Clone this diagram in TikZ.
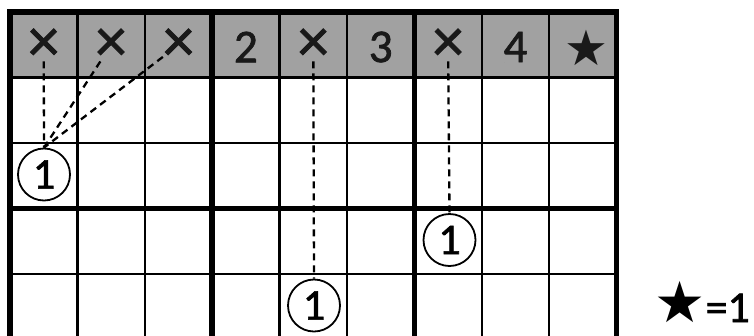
\documentclass[tikz,border=0pt]{standalone}
\usepackage{fontspec}
\setmainfont{Carlito}
\newfontfamily\digitfont{Carlito}[FakeBold=1.5]
\newfontfamily\symfont{DejaVu Sans}
\begin{document}
\begin{tikzpicture}[x=1pt,y=-1pt,
  thinrule/.style={line width=2.5pt},
  thickrule/.style={line width=5.5pt},
  hdr/.style={font=\digitfont\fontsize{47}{50}\selectfont, inner sep=0pt, text=black!90},
  xmark/.style={font=\digitfont\fontsize{62}{66}\selectfont, inner sep=0pt, text=black!90},
  starmark/.style={font=\symfont\fontsize{49}{52}\selectfont, inner sep=0pt, text=black!90},
  clue/.style={circle, draw, line width=1.8pt, minimum size=52pt, inner sep=0pt, font=\digitfont\fontsize{44}{48}\selectfont},
  link/.style={dash pattern=on 7pt off 5pt, line width=2.3pt}]
\useasboundingbox (0,0) rectangle (754,335);
\clip (0,0) rectangle (754,335);
% header shading
\fill[black!37] (10,12) rectangle (616.6,77.5);
% thin grid lines
\foreach \i in {1,2,4,5,7,8} \draw[thinrule] (10+67.4*\i,12) -- (10+67.4*\i,345);
\foreach \j in {1,2,4} \draw[thinrule] (10,12+65.5*\j) -- (616.6,12+65.5*\j);
% thick grid lines
\foreach \i in {3,6} \draw[thickrule] (10+67.4*\i,12) -- (10+67.4*\i,345);
\draw[thickrule] (10,208.5) -- (616.6,208.5);
\draw[thickrule, line join=miter] (10,345) -- (10,12) -- (616.6,12) -- (616.6,345);
% header content
\node[xmark] (h1) at (43.7,45) {×};
\node[xmark] (h2) at (111.1,45) {×};
\node[xmark] (h3) at (178.5,45) {×};
\node[hdr] (h4) at (245.9,47) {2};
\node[xmark] (h5) at (313.3,45) {×};
\node[hdr] (h6) at (380.7,47) {3};
\node[xmark] (h7) at (448.1,45) {×};
\node[hdr] (h8) at (515.5,47) {4};
\node[starmark] (h9) at (586,48) {★};
% clues
\node[clue] (c1) at (44,174.5) {1};
\node[clue] (c2) at (449.5,240) {1};
\node[clue] (c3) at (314,305.5) {1};
% dashed links
\draw[link] (h1) -- (c1.north);
\draw[link] (h2) -- (c1.north);
\draw[link] (h3) -- (c1.north);
\draw[link] (h5) -- (c3.north);
\draw[link] (h7) -- (c2.north);
% legend
\node[inner sep=0pt, anchor=base east] (legend) at (750,322) {{\symfont\fontsize{57}{60}\selectfont ★}{\digitfont\fontsize{44}{48}\selectfont =1}};
\end{tikzpicture}
\end{document}
